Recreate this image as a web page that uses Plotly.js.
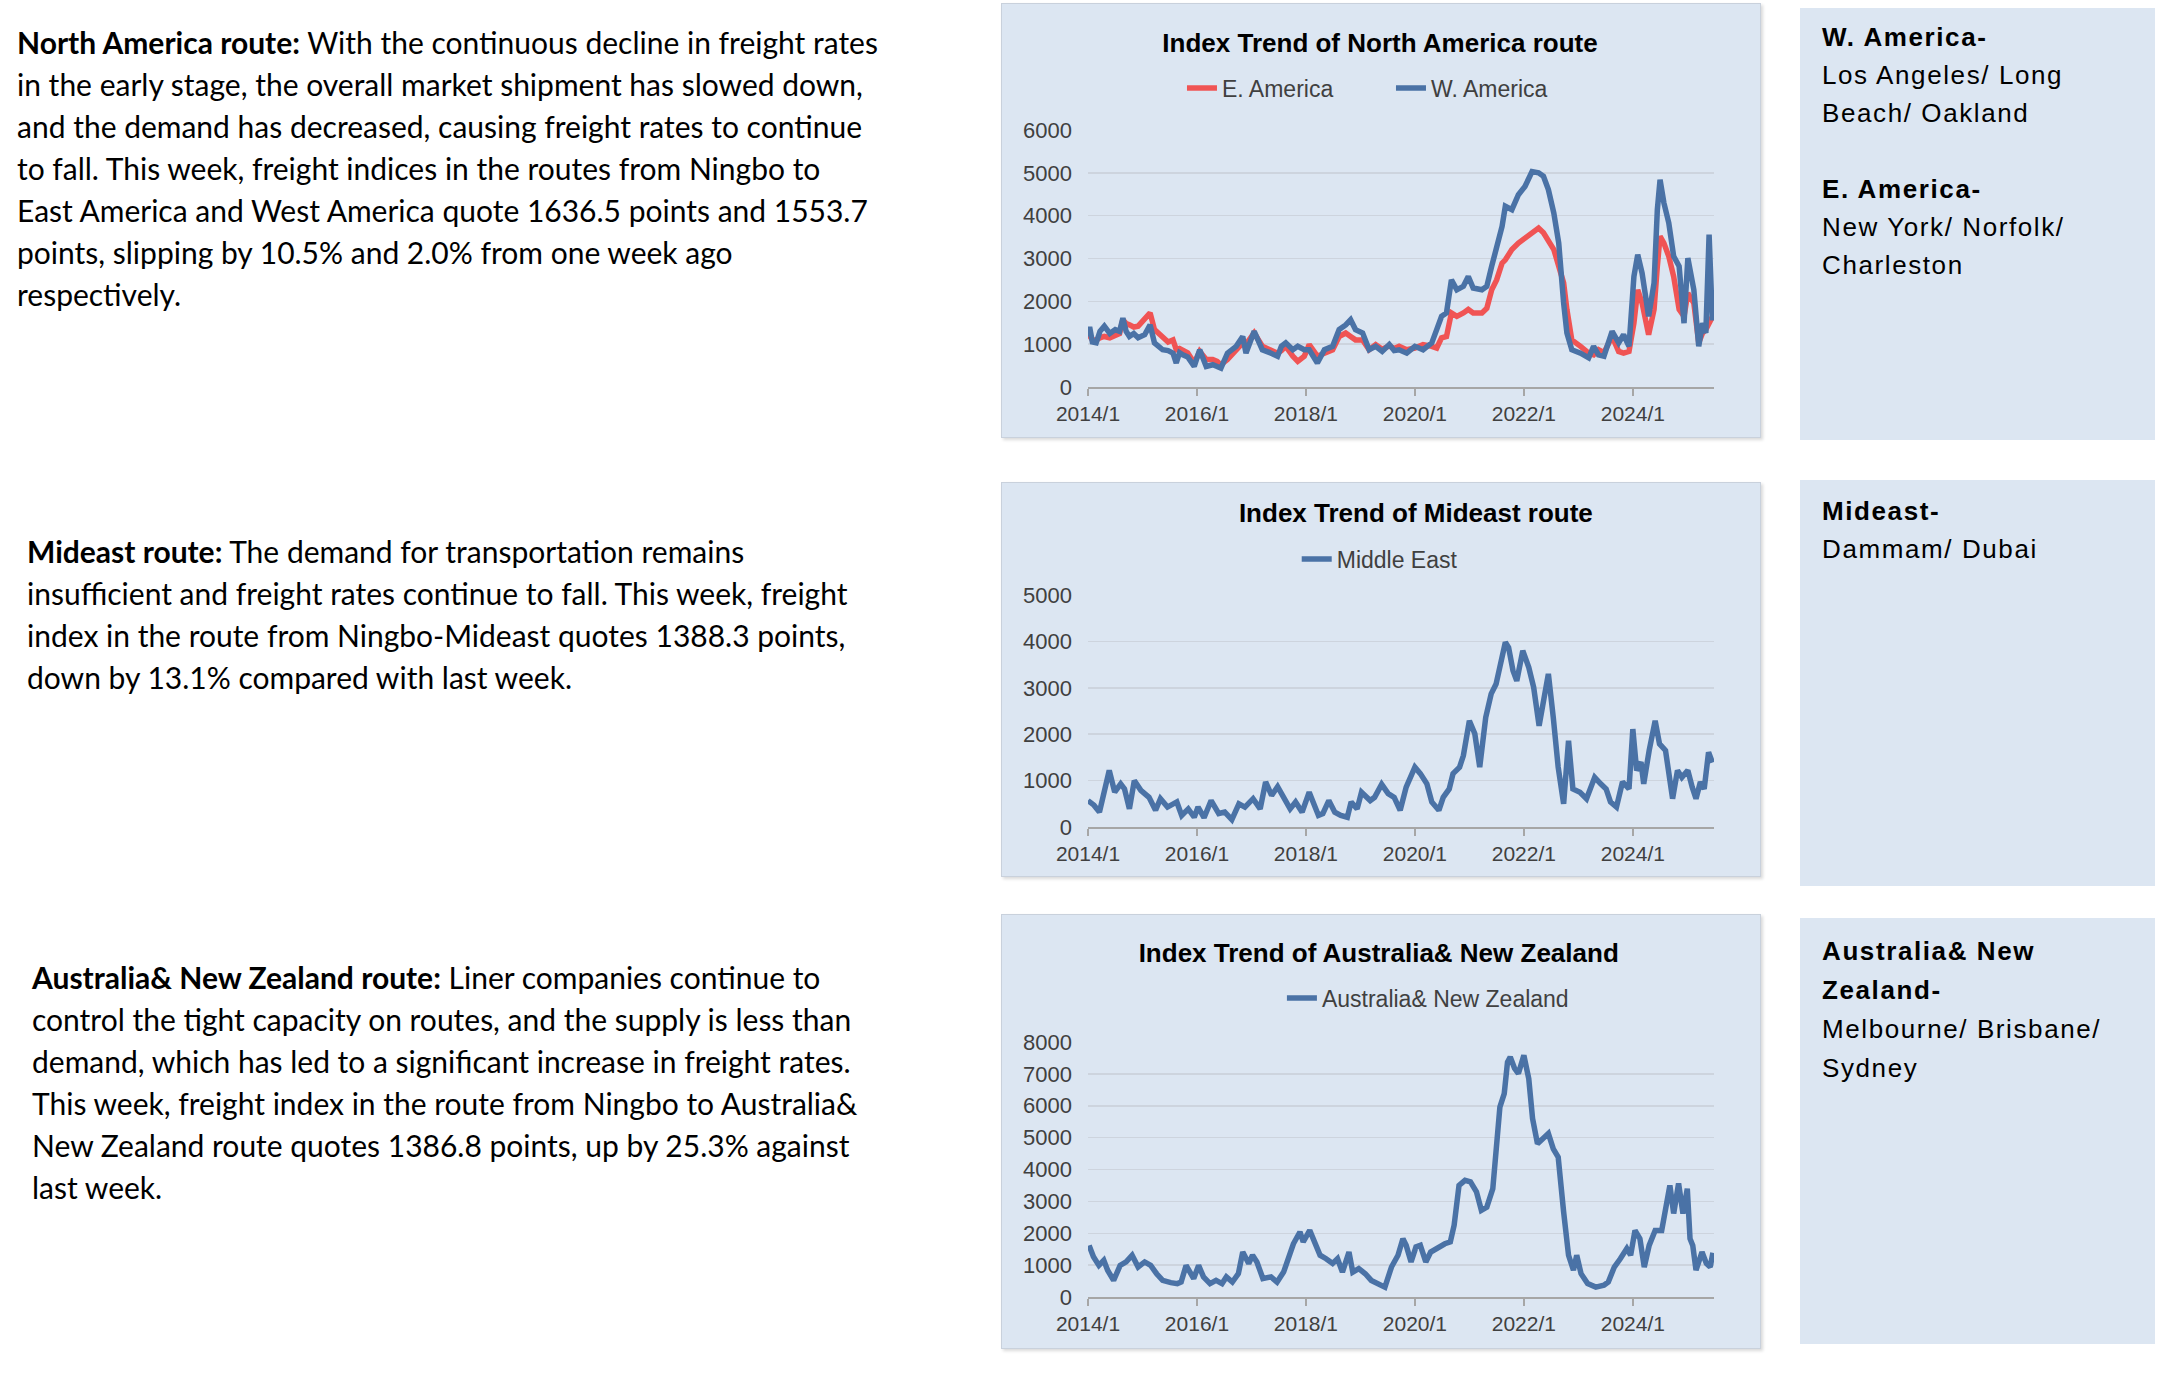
<!DOCTYPE html>
<html><head><meta charset="utf-8">
<script src="https://cdn.plot.ly/plotly-3.0.1.min.js"></script>
<style>
html,body{margin:0;padding:0;background:#fff;}
#page{position:relative;width:2179px;height:1380px;overflow:hidden;background:#fff;}
.para{position:absolute;font-family:Lato,'Noto Sans',sans-serif;font-size:30px;line-height:42px;color:#000;white-space:nowrap;}
.para b{font-weight:700;}
.panel{position:absolute;background:#dce6f2;border:1px solid #c9d1dc;box-shadow:2px 2px 3px rgba(0,0,0,0.15);}
.box{position:absolute;background:#dce6f2;font-family:'Liberation Sans',Arial,sans-serif;font-size:26px;letter-spacing:1.6px;line-height:38px;color:#000;white-space:nowrap;box-sizing:border-box;padding-left:22px;}
</style></head>
<body>
<div id="page">
  <div class="para" style="left:17px;top:21px;"><b>North America route:</b> With the continuous decline in freight rates<br>in the early stage, the overall market shipment has slowed down,<br>and the demand has decreased, causing freight rates to continue<br>to fall. This week, freight indices in the routes from Ningbo to<br>East America and West America quote 1636.5 points and 1553.7<br>points, slipping by 10.5% and 2.0% from one week ago<br>respectively.</div>
  <div class="para" style="left:27px;top:530px;"><b>Mideast route:</b> The demand for transportation remains<br>insufficient and freight rates continue to fall. This week, freight<br>index in the route from Ningbo-Mideast quotes 1388.3 points,<br>down by 13.1% compared with last week.</div>
  <div class="para" style="left:32px;top:956px;"><b>Australia&amp; New Zealand route:</b> Liner companies continue to<br>control the tight capacity on routes, and the supply is less than<br>demand, which has led to a significant increase in freight rates.<br>This week, freight index in the route from Ningbo to Australia&amp;<br>New Zealand route quotes 1386.8 points, up by 25.3% against<br>last week.</div>

  <div class="panel" style="left:1001px;top:3px;width:758px;height:433px;"><div id="c1"></div></div>
  <div class="panel" style="left:1001px;top:482px;width:758px;height:393px;"><div id="c2"></div></div>
  <div class="panel" style="left:1001px;top:914px;width:758px;height:433px;"><div id="c3"></div></div>

  <div class="box" style="left:1800px;top:8px;width:355px;height:432px;padding-top:10px;"><b>W. America-</b><br>Los Angeles/ Long<br>Beach/ Oakland<br><br><b>E. America-</b><br>New York/ Norfolk/<br>Charleston</div>
  <div class="box" style="left:1800px;top:480px;width:355px;height:406px;padding-top:12px;"><b>Mideast-</b><br>Dammam/ Dubai</div>
  <div class="box" style="left:1800px;top:918px;width:355px;height:426px;padding-top:14px;line-height:39px;"><b>Australia&amp; New<br>Zealand-</b><br>Melbourne/ Brisbane/<br>Sydney</div>
</div>
<script>
// ---------- data (x in decimal years) ----------
const tickYears = [2014, 2016, 2018, 2020, 2022, 2024];
const tickLabels = ['2014/1', '2016/1', '2018/1', '2020/1', '2022/1', '2024/1'];

const naTime = [
  2014.00,2014.03,2014.08,2014.15,2014.22,2014.30,2014.40,2014.50,
  2014.58,2014.64,2014.70,2014.76,2014.84,2014.92,2015.04,2015.14,
  2015.22,2015.30,2015.37,2015.47,2015.56,2015.62,2015.68,2015.74,
  2015.83,2015.95,2016.05,2016.17,2016.29,2016.37,2016.44,2016.56,
  2016.72,2016.84,2016.90,2017.05,2017.20,2017.36,2017.48,2017.55,
  2017.63,2017.76,2017.85,2017.97,2018.06,2018.21,2018.34,2018.49,
  2018.61,2018.73,2018.82,2018.91,2019.04,2019.16,2019.28,2019.40,
  2019.53,2019.62,2019.71,2019.85,2020.00,2020.15,2020.31,2020.40,
  2020.49,2020.58,2020.67,2020.77,2020.89,2020.98,2021.07,2021.23,
  2021.32,2021.41,2021.50,2021.60,2021.66,2021.78,2021.90,2022.02,
  2022.15,2022.27,2022.36,2022.45,2022.55,2022.64,2022.73,2022.79,
  2022.88,2023.04,2023.19,2023.28,2023.37,2023.47,2023.62,2023.74,
  2023.83,2023.93,2024.02,2024.09,2024.17,2024.29,2024.39,2024.45,
  2024.50,2024.57,2024.66,2024.75,2024.85,2024.94,2025.01,2025.12,
  2025.21,2025.28,2025.34,2025.40,2025.46
];
const eAmerica = [
  1150,1200,1100,1100,1150,1180,1150,1200,
  1250,1570,1480,1450,1400,1420,1610,1730,
  1340,1250,1150,1050,1100,870,900,870,
  800,560,830,640,640,600,520,640,
  870,1030,1000,1260,950,870,790,850,
  950,720,600,720,990,720,790,870,
  1180,1260,1180,1100,1100,870,990,880,
  960,900,950,870,910,990,950,910,
  1150,1180,1730,1650,1730,1810,1730,1730,
  1840,2270,2500,2890,2970,3210,3360,3480,
  3630,3710,3600,3400,3210,2820,2430,1810,
  1100,950,790,750,870,800,1180,830,
  790,830,1490,2270,1960,1220,1810,2820,
  3520,3360,3050,2580,1810,1650,2190,1960,
  1030,1260,1340,1490,1637
];
const wAmerica = [
  1180,1400,1050,1030,1300,1420,1250,1340,
  1300,1610,1300,1180,1250,1150,1220,1450,
  1030,950,870,850,790,560,800,750,
  700,480,870,480,520,480,440,790,
  950,1180,790,1300,870,790,720,950,
  1030,870,950,870,870,560,870,950,
  1340,1450,1570,1340,1260,870,950,830,
  990,850,870,790,950,870,1030,1340,
  1650,1730,2500,2270,2350,2580,2310,2270,
  2350,2820,3210,3750,4220,4140,4490,4680,
  5030,5000,4920,4610,4060,3360,1960,1260,
  870,790,680,950,750,720,1300,1030,
  1220,950,2580,3090,2660,1650,2430,4140,
  4840,4300,3830,3050,2820,1490,3010,2270,
  950,1490,1260,3560,1554
];

const meTime = [
  2014.00,2014.11,2014.21,2014.30,2014.39,2014.49,2014.60,2014.67,
  2014.76,2014.85,2014.97,2015.12,2015.24,2015.33,2015.46,2015.63,
  2015.72,2015.84,2015.95,2016.02,2016.13,2016.26,2016.40,2016.51,
  2016.64,2016.77,2016.88,2017.03,2017.16,2017.26,2017.37,2017.48,
  2017.60,2017.71,2017.81,2017.93,2018.06,2018.23,2018.31,2018.42,
  2018.53,2018.64,2018.76,2018.83,2018.94,2019.02,2019.18,2019.26,
  2019.39,2019.51,2019.62,2019.73,2019.84,2020.00,2020.10,2020.22,
  2020.31,2020.44,2020.52,2020.63,2020.70,2020.82,2020.89,2021.00,
  2021.10,2021.19,2021.30,2021.40,2021.49,2021.57,2021.66,2021.72,
  2021.80,2021.87,2021.98,2022.09,2022.18,2022.28,2022.35,2022.45,
  2022.54,2022.63,2022.73,2022.82,2022.90,2023.03,2023.15,2023.30,
  2023.41,2023.51,2023.59,2023.70,2023.81,2023.93,2024.00,2024.07,
  2024.15,2024.20,2024.30,2024.41,2024.49,2024.60,2024.73,2024.82,
  2024.90,2025.01,2025.09,2025.16,2025.24,2025.31,2025.39,2025.46
];
const middleEast = [
  570,470,320,720,1220,750,930,820,
  390,1000,790,640,360,610,430,540,
  250,390,210,430,200,570,290,320,
  160,500,430,610,390,970,680,870,
  640,390,540,320,750,250,290,570,
  320,250,210,540,390,750,570,640,
  920,720,640,360,860,1290,1150,930,
  540,360,640,820,1150,1290,1540,2290,
  2010,1290,2360,2870,3080,3510,3980,3870,
  3370,3150,3800,3440,3010,2180,2720,3300,
  2360,1290,500,1860,820,750,610,1070,
  930,820,540,430,970,820,2110,1220,
  1400,930,1650,2290,1790,1650,610,1220,
  1070,1220,860,610,970,820,1610,1388
];

const anzTime = [
  2014.02,2014.10,2014.20,2014.29,2014.36,2014.47,2014.59,2014.70,
  2014.81,2014.92,2015.04,2015.15,2015.26,2015.37,2015.52,2015.64,
  2015.71,2015.80,2015.94,2016.03,2016.12,2016.24,2016.35,2016.46,
  2016.54,2016.65,2016.76,2016.84,2016.95,2017.02,2017.10,2017.21,
  2017.36,2017.47,2017.59,2017.68,2017.77,2017.89,2017.95,2018.07,
  2018.17,2018.26,2018.37,2018.49,2018.58,2018.67,2018.79,2018.86,
  2018.97,2019.09,2019.20,2019.31,2019.45,2019.57,2019.69,2019.78,
  2019.84,2019.93,2020.02,2020.10,2020.20,2020.29,2020.44,2020.55,
  2020.65,2020.72,2020.81,2020.92,2021.02,2021.13,2021.22,2021.32,
  2021.43,2021.49,2021.56,2021.64,2021.70,2021.75,2021.83,2021.90,
  2022.00,2022.09,2022.16,2022.25,2022.35,2022.45,2022.54,2022.63,
  2022.73,2022.82,2022.91,2022.97,2023.05,2023.17,2023.32,2023.47,
  2023.55,2023.66,2023.77,2023.89,2023.96,2024.04,2024.13,2024.21,
  2024.30,2024.41,2024.53,2024.60,2024.68,2024.75,2024.84,2024.92,
  2025.00,2025.05,2025.10,2025.16,2025.27,2025.35,2025.42,2025.47
];
const australiaNZ = [
  1620,1260,990,1150,840,520,990,1100,
  1310,940,1100,990,730,520,450,420,
  470,990,580,990,630,420,520,420,
  630,470,730,1410,1050,1310,1100,580,
  630,470,780,1200,1670,2040,1730,2090,
  1620,1310,1200,1050,1200,780,1410,780,
  890,730,520,420,310,940,1310,1830,
  1620,1100,1570,1620,1100,1410,1570,1670,
  1730,2250,3500,3660,3610,3300,2720,2820,
  3400,4450,5960,6380,7370,7530,7170,7010,
  7580,6850,5600,4810,4970,5130,4650,4390,
  2670,1310,840,1310,730,420,310,370,
  470,940,1200,1520,1310,2090,1830,940,
  1620,2090,2090,2770,3500,2620,3560,2620,
  3400,1830,1620,840,1410,1050,940,1387
];

// ---------- styling ----------
const FONT = "'Liberation Sans', Arial, sans-serif";
const RED = '#f05454';
const BLUE = '#4a72a6';
const BG = '#dce6f2';
const LW = 5.5;

function layoutFor(o) {
  const legend = {orientation: 'h', x: o.lx, xanchor: 'center', y: o.ly, yanchor: 'middle',
                  font: {family: FONT, size: 23, color: '#404040'}, bgcolor: 'rgba(0,0,0,0)'};
  if (o.ew) { legend.entrywidth = o.ew; legend.entrywidthmode = 'pixels'; }
  return {
    width: 758, height: o.h,
    margin: {l: 86, r: 46, t: o.t, b: o.b, pad: 0},
    paper_bgcolor: BG, plot_bgcolor: BG,
    font: {family: FONT, size: 21, color: '#404040'},
    title: {text: '<b>' + o.title + '</b>', font: {family: FONT, size: 26, color: '#000000'},
            x: o.tx, xref: 'container', xanchor: 'center', y: o.ty, yref: 'container', yanchor: 'middle'},
    showlegend: true,
    legend: legend,
    xaxis: {range: [2014, 2025.49], tickmode: 'array', tickvals: tickYears, ticktext: tickLabels,
            showgrid: false, zeroline: false, showline: true, linecolor: '#a6a6a6', linewidth: 2,
            ticks: 'outside', ticklen: 7, tickwidth: 1.5, tickcolor: '#a6a6a6',
            tickfont: {family: FONT, size: 21, color: '#404040'}, fixedrange: true},
    yaxis: {range: [0, o.ymax], dtick: 1000, tick0: 0, showgrid: true, gridcolor: '#cdd4de', gridwidth: 1.5,
            zeroline: false, showline: false, ticks: '', ticklabelstandoff: 15,
            tickfont: {family: FONT, size: 22, color: '#404040'}, fixedrange: true}
  };
}
const cfg = {displayModeBar: false, staticPlot: true};

Plotly.newPlot('c1', [
  {x: naTime, y: eAmerica, name: 'E. America', type: 'scatter', mode: 'lines', line: {color: RED, width: LW}},
  {x: naTime, y: wAmerica, name: 'W. America', type: 'scatter', mode: 'lines', line: {color: BLUE, width: LW}}
], layoutFor({h: 433, t: 126, b: 50, ymax: 6000, title: 'Index Trend of North America route',
              tx: 0.4987, ty: 1 - 39/433, lx: 0.484, ly: 1 + 42/257, ew: 164}), cfg);

Plotly.newPlot('c2', [
  {x: meTime, y: middleEast, name: 'Middle East', type: 'scatter', mode: 'lines', line: {color: BLUE, width: LW}}
], layoutFor({h: 393, t: 112, b: 49, ymax: 5000, title: 'Index Trend of Mideast route',
              tx: 0.546, ty: 1 - 30/393, lx: 0.466, ly: 1 + 36/232}), cfg);

Plotly.newPlot('c3', [
  {x: anzTime, y: australiaNZ, name: 'Australia& New Zealand', type: 'scatter', mode: 'lines', line: {color: BLUE, width: LW}}
], layoutFor({h: 433, t: 127, b: 51, ymax: 8000, title: 'Index Trend of Australia& New Zealand',
              tx: 0.497, ty: 1 - 38/433, lx: 0.543, ly: 1 + 44/255}), cfg);
</script>
</body></html>
